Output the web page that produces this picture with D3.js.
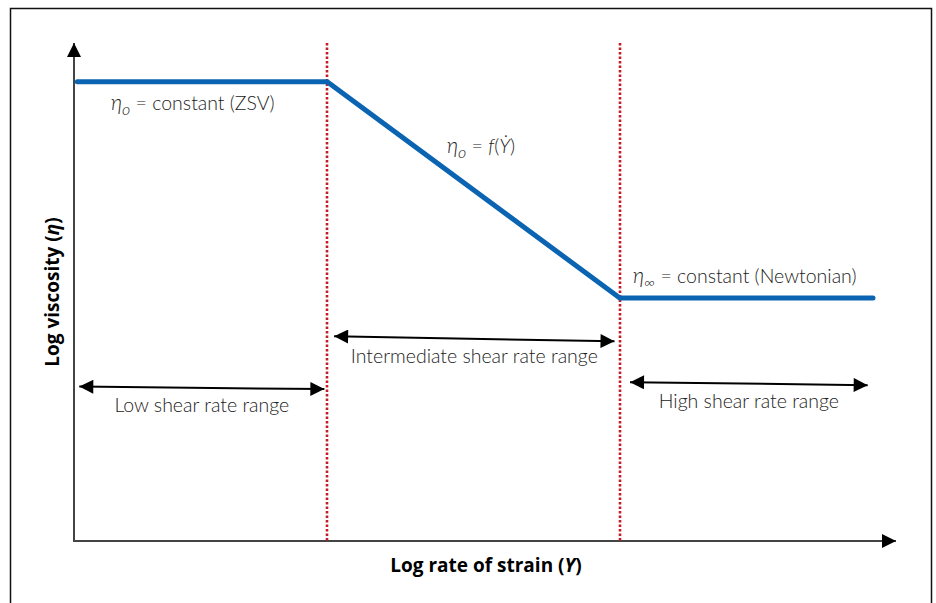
<!DOCTYPE html>
<html>
<head>
<meta charset="utf-8">
<script src="https://cdn.jsdelivr.net/npm/d3@7"></script>
<style>
  body { margin: 0; background: #fff; }
  text { font-family: Lato, "Open Sans", sans-serif; }
  .note { font-size: 19.5px; font-weight: 300; fill: #222; }
  .axis-title { font-family: "Open Sans", sans-serif; font-size: 19px; font-weight: bold; fill: #000; }
</style>
</head>
<body>
<svg id="chart" width="936" height="603"></svg>
<script>
// viscosity curve in log units (x = log rate of strain, y = log viscosity)
const curveX = [0.04, 3.08, 6.64, 9.72];
const curveY = [9.22, 9.22, 4.88, 4.88];
// dotted boundaries between regions
const boundaries = [3.08, 6.64];
// double arrows for the shear rate ranges
const rangeNames = ["Low shear rate range", "Intermediate shear rate range", "High shear rate range"];
const rangeStart = [0.04, 3.14, 6.74];
const rangeEnd = [3.07, 6.6, 9.68];
const rangeYStart = [3.1, 4.11, 3.19];
const rangeYEnd = [3.05, 4.01, 3.13];

const svg = d3.select("#chart");
const W = 936, H = 603;
const x = d3.scaleLinear().domain([0, 10]).range([74, 896]);
const y = d3.scaleLinear().domain([0, 10]).range([541, 43]);

// outer frame (bottom edge is cut off)
svg.append("path")
  .attr("d", `M10.5,${H + 2} V8.5 H931.5 V${H + 2}`)
  .attr("fill", "none")
  .attr("stroke", "#111")
  .attr("stroke-width", 1.5);

const defs = svg.append("defs");
defs.append("marker")
  .attr("id", "head")
  .attr("viewBox", "0 0 10 10")
  .attr("refX", 10).attr("refY", 5)
  .attr("markerWidth", 16).attr("markerHeight", 14)
  .attr("markerUnits", "userSpaceOnUse")
  .attr("orient", "auto-start-reverse")
  .append("path").attr("d", "M0,0 L10,5 L0,10 Z").attr("fill", "#000");

// axes
svg.append("line")
  .attr("x1", x(0)).attr("y1", y(0)).attr("x2", x(0)).attr("y2", y(10))
  .attr("stroke", "#444").attr("stroke-width", 2)
  .attr("marker-end", "url(#head)");
svg.append("line")
  .attr("x1", x(0) - 1).attr("y1", y(0)).attr("x2", x(10)).attr("y2", y(0))
  .attr("stroke", "#444").attr("stroke-width", 2)
  .attr("marker-end", "url(#head)");

// region boundaries
svg.selectAll(".bound").data(boundaries).join("line")
  .attr("class", "bound")
  .attr("x1", d => Math.round(x(d))).attr("x2", d => Math.round(x(d)))
  .attr("y1", y(10)).attr("y2", y(0))
  .attr("stroke", "#c41d28").attr("stroke-width", 2.6)
  .attr("stroke-dasharray", "2.5,2");

// the curve
const pts = curveX.map((d, i) => [x(d), y(curveY[i])]);
svg.append("path")
  .attr("d", d3.line()(pts))
  .attr("fill", "none")
  .attr("stroke", "#0b64b2")
  .attr("stroke-width", 5)
  .attr("stroke-linecap", "round");

// range arrows
rangeNames.forEach((name, i) => {
  svg.append("line")
    .attr("x1", x(rangeStart[i]) + 2).attr("y1", y(rangeYStart[i]))
    .attr("x2", x(rangeEnd[i]) - 2).attr("y2", y(rangeYEnd[i]))
    .attr("stroke", "#000").attr("stroke-width", 2)
    .attr("marker-start", "url(#head)")
    .attr("marker-end", "url(#head)");
  svg.append("text")
    .attr("class", "note")
    .attr("x", (x(rangeStart[i]) + x(rangeEnd[i])) / 2)
    .attr("y", y((rangeYStart[i] + rangeYEnd[i]) / 2) + 24)
    .attr("text-anchor", "middle")
    .text(name);
});

// curve annotations
function eta(sel, sub) {
  sel.append("tspan").attr("font-style", "italic").attr("font-size", 21).text("η");
  sel.append("tspan").attr("font-style", "italic").attr("font-size", 16).attr("dy", 5).text(sub);
  sel.append("tspan").attr("dy", -5).text(" = ");
}
let t = svg.append("text").attr("class", "note").attr("x", 111).attr("y", y(curveY[0]) + 28);
eta(t, "o");
t.append("tspan").text("constant (ZSV)");

t = svg.append("text").attr("class", "note").attr("x", 447).attr("y", 153);
eta(t, "o");
t.append("tspan").attr("font-style", "italic").text("f");
t.append("tspan").text("(");
t.append("tspan").attr("font-style", "italic").text("Ẏ");
t.append("tspan").text(")");

t = svg.append("text").attr("class", "note").attr("x", 633).attr("y", y(curveY[2]) - 15);
eta(t, "∞");
t.append("tspan").text("constant (Newtonian)");

// axis titles
t = svg.append("text").attr("class", "axis-title")
  .attr("x", (x(0) + x(10)) / 2 + 1).attr("y", 572)
  .attr("text-anchor", "middle");
t.append("tspan").text("Log rate of strain (");
t.append("tspan").attr("font-style", "italic").text("Y");
t.append("tspan").text(")");

t = svg.append("text").attr("class", "axis-title")
  .attr("transform", `translate(59,${(y(0) + y(10)) / 2}) rotate(-90)`)
  .attr("text-anchor", "middle");
t.append("tspan").text("Log viscosity (");
t.append("tspan").attr("font-style", "italic").text("η");
t.append("tspan").text(")");
</script>
</body>
</html>
